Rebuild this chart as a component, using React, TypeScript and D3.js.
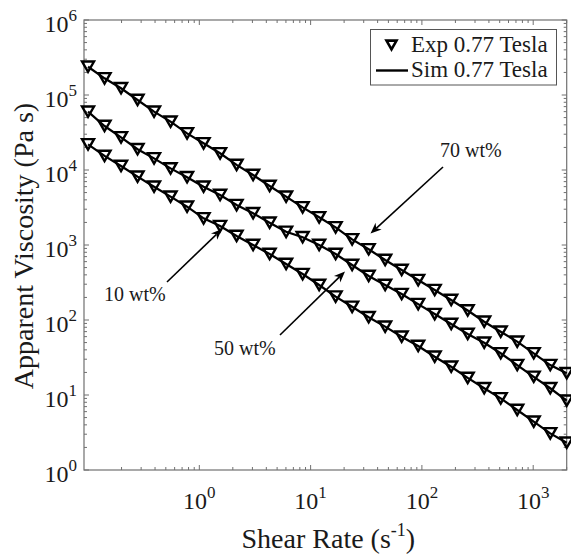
import React from "react";
import * as d3 from "d3";

// Shear rate sweep (s^-1)
const shearRate = [
  0.1, 0.1407, 0.198, 0.2786, 0.392, 0.5516, 0.7762, 1.092, 1.537, 2.162,
  3.043, 4.281, 6.024, 8.477, 11.93, 16.78, 23.61, 33.23, 46.75, 65.78,
  92.57, 130.3, 183.3, 257.9, 362.9, 510.6, 718.5, 1011, 1423, 2000,
];

// Apparent viscosity (Pa s) at 0.77 Tesla, measured
const exp70 = [
  2.38e5, 1.67e5, 1.23e5, 8.58e4, 5.99e4, 4.41e4, 3.08e4, 2.27e4, 1.67e4, 1.17e4,
  8580, 6120, 4410, 3180, 2340, 1720, 1190, 877, 631, 464,
  341, 251, 185, 134, 94.9, 69.8, 51.4, 36.0, 25.1, 19.5,
];
const exp50 = [
  5.99e4, 3.86e4, 2.73e4, 1.89e4, 1.43e4, 1.05e4, 8000, 5990, 4640, 3410,
  2650, 1980, 1500, 1270, 1000, 759, 541, 386, 293, 222,
  163, 120, 88.4, 65.1, 49.8, 36.0, 25.1, 17.5, 12.3, 8.4,
];
const exp10 = [
  2.2e4, 1.54e4, 1.13e4, 8150, 5990, 4410, 3240, 2270, 1790, 1320,
  1000, 759, 558, 410, 293, 205, 150, 109, 81.5, 59.9,
  45.0, 32.4, 23.8, 16.9, 12.3, 9.03, 6.31, 4.41, 3.08, 2.31,
];

// Simulated viscosity (Pa s) at 0.77 Tesla
const sim70 = exp70.slice();
const sim50 = exp50.slice();
const sim10 = exp10.slice();

const xTickPowers = [0, 1, 2, 3];
const yTickPowers = [0, 1, 2, 3, 4, 5, 6];

const legendLabels = ["Exp 0.77 Tesla", "Sim 0.77 Tesla"];

// Callouts: label, text anchor point, arrow tail, arrow tip (pixels)
const callouts = [
  { label: "70 wt%", tx: 440, ty: 157, x1: 443, y1: 167, x2: 370.5, y2: 233.5 },
  { label: "10 wt%", tx: 104, ty: 301, x1: 167, y1: 282, x2: 222, y2: 229 },
  { label: "50 wt%", tx: 214, ty: 355, x1: 280, y1: 335, x2: 345, y2: 271.5 },
];

const W = 571;
const H = 558;
const margin = { left: 84, right: 4.3, top: 20, bottom: 88 };
const FONT = "'Liberation Serif', 'Times New Roman', serif";
const AXIS = "#707070";
const INK = "#1a1a1a";

function triPath(cx: number, cy: number, s: number) {
  const h = s * 0.866;
  return `M${cx - s / 2},${cy - h / 2}L${cx + s / 2},${cy - h / 2}L${cx},${cy + h / 2}Z`;
}

function arrowHead(x1: number, y1: number, x2: number, y2: number) {
  const dx = x2 - x1;
  const dy = y2 - y1;
  const len = Math.hypot(dx, dy);
  const ux = dx / len;
  const uy = dy / len;
  const nx = -uy;
  const ny = ux;
  const L = 11;
  const hw = 4.5;
  const bx = x2 - L * ux;
  const by = y2 - L * uy;
  const mx = x2 - 0.7 * L * ux;
  const my = y2 - 0.7 * L * uy;
  return {
    head: `M${x2},${y2}L${bx + hw * nx},${by + hw * ny}L${mx},${my}L${bx - hw * nx},${by - hw * ny}Z`,
    shaftEnd: [mx, my],
  };
}

export default function App() {
  const x = d3
    .scaleLog()
    .domain([0.092, 2000])
    .range([margin.left, W - margin.right]);
  const y = d3
    .scaleLog()
    .domain([1, 1e6])
    .range([H - margin.bottom, margin.top]);

  const [x0, x1] = x.range();
  const [yb, yt] = y.range();

  const isMajor = (v: number) => Math.abs(Math.log10(v) - Math.round(Math.log10(v))) < 1e-9;
  const xMinor = x.ticks().filter((v) => !isMajor(v));
  const yMinor = y.ticks().filter((v) => !isMajor(v));

  const line = d3
    .line<number>()
    .x((_, i) => x(shearRate[i]))
    .y((d) => y(d));

  const simSeries = [sim70, sim50, sim10];
  const expSeries = [exp70, exp50, exp10];

  const majorLen = 5;
  const minorLen = 3;

  return (
    <div style={{ position: "fixed", left: 0, top: 0 }}>
      <svg width={W} height={H} style={{ display: "block", background: "#fff" }}>
        {/* tick marks on all four sides */}
        <g stroke={AXIS} strokeWidth={1}>
          {xMinor.map((v) => (
            <g key={`xm${v}`}>
              <line x1={x(v)} x2={x(v)} y1={yb} y2={yb - minorLen} />
              <line x1={x(v)} x2={x(v)} y1={yt} y2={yt + minorLen} />
            </g>
          ))}
          {yMinor.map((v) => (
            <g key={`ym${v}`}>
              <line x1={x0} x2={x0 + minorLen} y1={y(v)} y2={y(v)} />
              <line x1={x1} x2={x1 - minorLen} y1={y(v)} y2={y(v)} />
            </g>
          ))}
          {xTickPowers.map((p) => (
            <g key={`xM${p}`}>
              <line x1={x(10 ** p)} x2={x(10 ** p)} y1={yb} y2={yb - majorLen} />
              <line x1={x(10 ** p)} x2={x(10 ** p)} y1={yt} y2={yt + majorLen} />
            </g>
          ))}
          {yTickPowers.map((p) => (
            <g key={`yM${p}`}>
              <line x1={x0} x2={x0 + majorLen} y1={y(10 ** p)} y2={y(10 ** p)} />
              <line x1={x1} x2={x1 - majorLen} y1={y(10 ** p)} y2={y(10 ** p)} />
            </g>
          ))}
        </g>
        <rect x={x0} y={yt} width={x1 - x0} height={yb - yt} fill="none" stroke={AXIS} strokeWidth={1.2} />

        {/* simulation lines */}
        {simSeries.map((s, i) => (
          <path key={`sim${i}`} d={line(s) ?? ""} fill="none" stroke="#000" strokeWidth={2.2} />
        ))}

        {/* experimental markers */}
        {expSeries.map((s, i) => (
          <g key={`exp${i}`}>
            {s.map((v, j) => (
              <path
                key={j}
                d={triPath(x(shearRate[j]), y(v), 12)}
                fill="none"
                stroke="#000"
                strokeWidth={2.4}
                strokeLinejoin="miter"
              />
            ))}
          </g>
        ))}

        {/* callouts */}
        {callouts.map((c) => {
          const a = arrowHead(c.x1, c.y1, c.x2, c.y2);
          return (
            <g key={c.label}>
              <line x1={c.x1} y1={c.y1} x2={a.shaftEnd[0]} y2={a.shaftEnd[1]} stroke="#000" strokeWidth={1.6} />
              <path d={a.head} fill="#000" />
              <text x={c.tx} y={c.ty} fontFamily={FONT} fontSize={20} fill={INK}>
                {c.label}
              </text>
            </g>
          );
        })}

        {/* tick labels */}
        <g fontFamily={FONT} fill={INK}>
          {xTickPowers.map((p) => (
            <text key={`xl${p}`} x={x(10 ** p)} y={509} textAnchor="middle" fontSize={24}>
              10
              <tspan dy={-11} fontSize={17}>
                {p}
              </tspan>
            </text>
          ))}
          {yTickPowers.map((p) => (
            <text key={`yl${p}`} x={77} y={y(10 ** p) + 12} textAnchor="end" fontSize={24}>
              10
              <tspan dy={-11} fontSize={17}>
                {p}
              </tspan>
            </text>
          ))}
        </g>

        {/* axis titles */}
        <text x={(x0 + x1) / 2 + 3} y={548} textAnchor="middle" fontFamily={FONT} fontSize={28} fill={INK}>
          Shear Rate (s
          <tspan dy={-12} fontSize={18}>
            -1
          </tspan>
          <tspan dy={12}>)</tspan>
        </text>
        <text
          transform={`translate(33, ${(yt + yb) / 2 + 1}) rotate(-90)`}
          textAnchor="middle"
          fontFamily={FONT}
          fontSize={28}
          fill={INK}
        >
          Apparent Viscosity (Pa s)
        </text>

        {/* legend */}
        <g>
          <rect x={370.5} y={29.5} width={186} height={55.5} fill="#fff" stroke="#555" strokeWidth={1} />
          <path d={triPath(391.5, 45, 10)} fill="none" stroke="#000" strokeWidth={2.6} />
          <line x1={376} x2={408} y1={70.5} y2={70.5} stroke="#000" strokeWidth={2.4} />
          <text x={411} y={52} fontFamily={FONT} fontSize={23} fill={INK}>
            {legendLabels[0]}
          </text>
          <text x={411} y={77} fontFamily={FONT} fontSize={23} fill={INK}>
            {legendLabels[1]}
          </text>
        </g>
      </svg>
    </div>
  );
}
